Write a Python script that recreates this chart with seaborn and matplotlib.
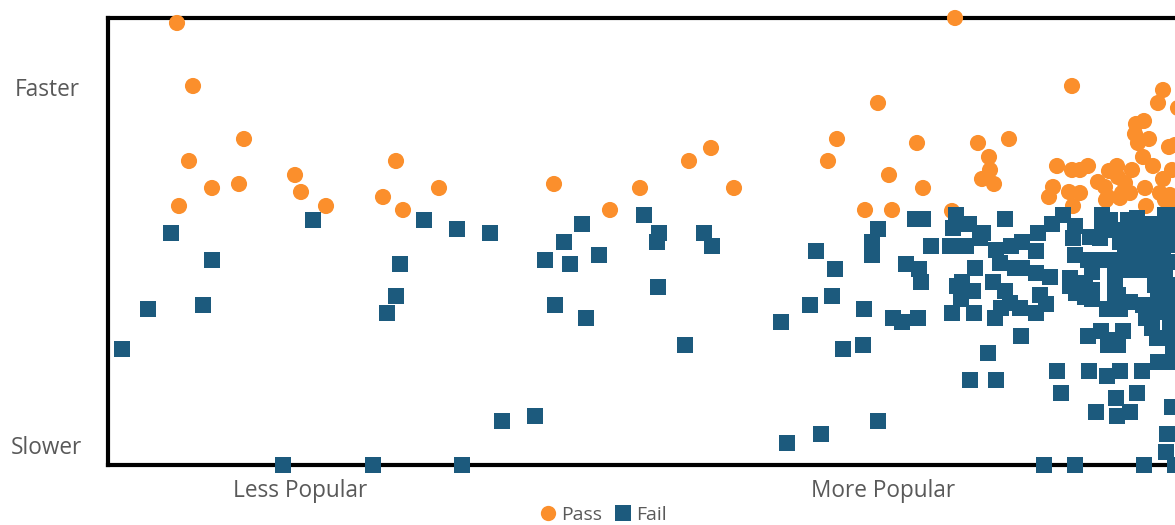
import pandas as pd
import matplotlib
matplotlib.use("Agg")
import matplotlib.pyplot as plt
import seaborn as sns

# values: popularity runs 108-1175, speed 0-447
pass_pop = [177, 955, 193, 244, 189, 212, 239, 179, 295, 301, 326, 396, 383, 403, 439, 554, 610, 640, 689, 711, 734,
            828, 837, 878, 917, 889, 923, 865, 892, 952, 978, 1009, 989, 990, 982, 994, 1072,
            1057, 1072, 1080, 1088, 1053, 1049, 1069, 1080, 1073,
            1163, 1158, 1144, 1136, 1135, 1149, 1138, 1143, 1153, 1117, 1109, 1132, 1098, 1118, 1125, 1105, 1122,
            1130, 1108, 1145, 1120, 1106, 1146, 1169, 1175, 1163, 1160, 1172, 1170, 1178, 1165, 1170]
pass_speed = [442, 447, 379, 326, 304, 277, 281, 259, 290, 273, 259, 304, 268, 255, 277, 281, 255, 277, 304, 317, 277,
              304, 326, 362, 322, 290, 277, 255, 255, 254, 322, 326, 308, 295, 286, 281, 379,
              299, 295, 295, 299, 278, 268, 273, 272, 259,
              375, 362, 344, 341, 331, 326, 322, 308, 299, 299, 294, 295, 283, 288, 282, 278, 272,
              272, 268, 277, 267, 265, 259, 318, 320, 286, 272, 295, 270, 357, 265, 259]

fail_pop = [122, 148, 171, 203, 212, 283, 313, 373, 387, 396, 400, 424, 457, 462, 490, 502, 535, 545, 555, 564, 570,
            582, 586, 599, 644, 657, 659, 658, 685, 704, 712, 781, 787, 810, 816, 821, 832, 835, 843, 863, 864, 872,
            872, 878, 878, 893, 902, 906, 918, 919, 921,
            915, 923, 956, 953, 969, 983, 931, 950, 966, 980, 1005, 996, 1000, 1011, 1022, 1036, 1038, 1052, 1063,
            1015, 1022, 1036, 1050, 975, 962, 957, 973, 961, 993, 1005, 1040, 1046, 952, 974, 995, 1001, 1010, 1020,
            1036, 1021, 988, 970, 996, 1057, 1089, 1107, 1120, 1142, 1158, 1173, 1061, 1116, 1137, 1096, 1130, 1117,
            1172, 1167, 1166, 1044, 1075, 1144, 1175, 1173,
            1102, 1110, 1128, 1137, 1153, 1165, 1173,
            1075, 1090, 1102, 1115, 1128, 1140, 1152, 1165, 1173,
            1073, 1100, 1120, 1133, 1146, 1160, 1172,
            1075, 1088, 1100, 1112, 1125, 1138, 1150, 1163, 1174,
            1092, 1115, 1125, 1138, 1152, 1165,
            1070, 1085, 1092, 1115, 1118, 1155, 1165, 1174,
            1070, 1076, 1085, 1092, 1115, 1130, 1143, 1158, 1172,
            1107, 1120, 1146, 1158, 1172, 1152, 1157, 1170, 1170,
            1088, 1101, 1123, 1117, 1108, 1118]
fail_speed = [116, 156, 232, 160, 205, 0, 245, 0, 152, 169, 201, 245, 236, 0, 232, 44, 49, 205, 160, 223, 201,
              241, 147, 210, 250, 223, 232, 178, 120, 232, 219, 143, 22, 160, 214, 31, 169, 196, 116, 120, 156, 223,
              210, 236, 44, 147, 143, 201, 147, 196, 183,
              246, 246, 250, 237, 241, 232, 219, 219, 219, 227, 246, 215, 202, 219, 223, 214, 232, 241, 250,
              197, 197, 192, 188, 197, 183, 179, 174, 166, 183, 174, 170, 161, 152, 152, 147, 157, 162, 157,
              152, 129, 112, 85, 85, 94, 94, 89, 94, 94, 103, 103, 72, 67, 72, 53, 53, 49,
              58, 31, 13, 0, 0, 0, 0, 117,
              250, 245, 245, 247, 241, 250, 250,
              239, 228, 236, 235, 233, 232, 230, 237, 235,
              227, 227, 223, 220, 218, 223, 220,
              210, 205, 205, 205, 207, 205, 207, 207, 203,
              193, 193, 195, 195, 195, 193,
              187, 182, 175, 180, 170, 180, 177, 180,
              179, 172, 168, 166, 165, 163, 160, 165, 167,
              156, 156, 147, 153, 153, 137, 127, 140, 130,
              129, 134, 134, 125, 120, 120]

x_tick_pos = [300, 883]
x_tick_labels = ["Less Popular", "More Popular"]
y_tick_pos = [20, 378]
y_tick_labels = ["Slower", "Faster"]
PASS_COLOR = "#FB8F2C"
FAIL_COLOR = "#1C5A7D"
TEXT_COLOR = "#595959"

df = pd.DataFrame({
    "popularity": pass_pop + fail_pop,
    "speed": pass_speed + fail_speed,
    "result": ["Pass"] * len(pass_pop) + ["Fail"] * len(fail_pop),
})

sns.set_theme(style="white")
plt.rcParams["font.family"] = ["Open Sans", "DejaVu Sans"]

fig = plt.figure(figsize=(11.75, 5.25), dpi=100)
ax = fig.add_axes([108 / 1175, 60 / 525, 1067 / 1175, 447 / 525])

sns.scatterplot(data=df, x="popularity", y="speed", hue="result", style="result", size="result",
                palette={"Pass": PASS_COLOR, "Fail": FAIL_COLOR},
                markers={"Pass": "o", "Fail": "s"},
                sizes={"Pass": 135, "Fail": 122},
                linewidth=0, alpha=1, clip_on=False, zorder=5, ax=ax)

ax.set_xlim(108, 1175)
ax.set_ylim(0, 447)
ax.set_xticks(x_tick_pos, x_tick_labels)
ax.set_yticks(y_tick_pos, y_tick_labels)
ax.tick_params(length=0, labelsize=16.3, labelcolor=TEXT_COLOR)
ax.tick_params(axis="x", pad=10)
ax.tick_params(axis="y", pad=44)
for label in ax.get_yticklabels():
    label.set_ha("center")
ax.set_xlabel("")
ax.set_ylabel("")

ax.spines["right"].set_visible(False)
for side in ["left", "top", "bottom"]:
    ax.spines[side].set_linewidth(3)
    ax.spines[side].set_color("black")

sns.move_legend(ax, "center", bbox_to_anchor=(0.4635, -0.112), ncol=2, title=None, frameon=False,
                fontsize=14, labelcolor=TEXT_COLOR, handlelength=1, handletextpad=0.15,
                columnspacing=0.6, borderpad=0)
for handle in ax.get_legend().legend_handles:
    handle.set_markersize(11)

fig.savefig("out.png", dpi=100, facecolor="white")
